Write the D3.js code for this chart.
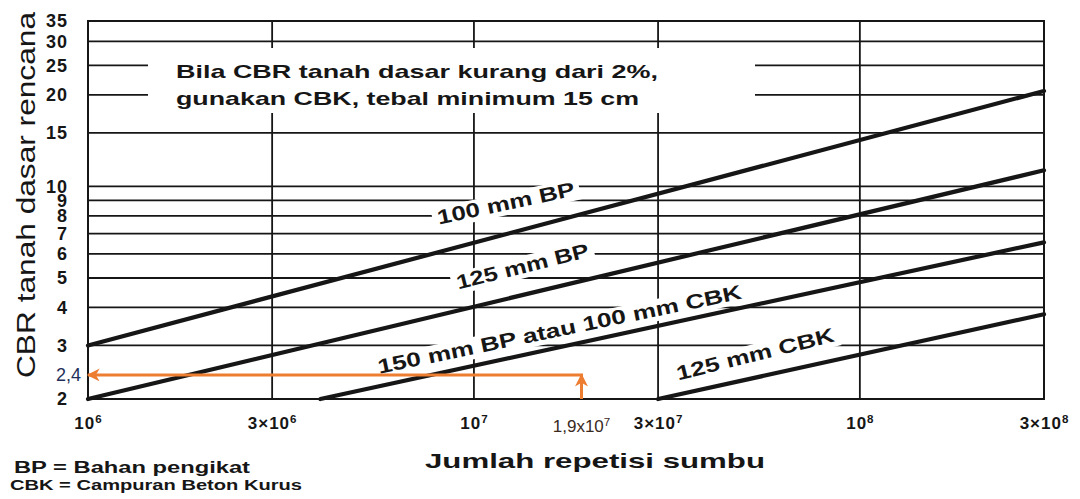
<!DOCTYPE html>
<html>
<head>
<meta charset="utf-8">
<script src="https://cdn.jsdelivr.net/npm/d3@7"></script>
<style>
  html, body { margin: 0; padding: 0; background: #fff; }
  svg { display: block; }
  text { font-family: "Liberation Sans", Arial, Helvetica, sans-serif; }
</style>
</head>
<body>
<svg id="chart" width="1080" height="499"></svg>
<script>
// ---- Axis extents and ticks ----
const repetitionDomain = [1e6, 3e8];
const cbrDomain = [2, 35];
const repetitionTicks = [1e6, 3e6, 1e7, 3e7, 1e8, 3e8];
const repetitionTickLabels = ["10^6", "3×10^6", "10^7", "3×10^7", "10^8", "3×10^8"];
const cbrTicks = [2, 3, 4, 5, 6, 7, 8, 9, 10, 15, 20, 25, 30, 35];
const cbrTickLabels = ["2", "3", "4", "5", "6", "7", "8", "9", "10", "15", "20", "25", "30", "35"];

// ---- Design lines (sub-base thickness), end points as [repetitions, CBR] ----
const lineNames = ["100 mm BP", "125 mm BP", "150 mm BP atau 100 mm CBK", "125 mm CBK"];
const lineStart = [[1e6, 3], [1e6, 2], [4e6, 2], [3e7, 2]];
const lineEnd = [[3e8, 20.6], [3e8, 11.3], [3e8, 6.55], [3e8, 3.8]];

// ---- Worked example ----
const exampleRepetitions = 1.9e7;
const exampleCbr = 2.4;
const exampleRepetitionLabel = "1,9x10^7";
const exampleCbrLabel = "2,4";

// ---- Texts ----
const noteLines = ["Bila CBR tanah dasar kurang dari 2%,", "gunakan CBK, tebal minimum 15 cm"];
const xTitle = "Jumlah repetisi sumbu";
const yTitle = "CBR tanah dasar rencana";
const legendLines = ["BP = Bahan pengikat", "CBK = Campuran Beton Kurus"];

// ---- Scales ----
const svg = d3.select("#chart");
const x = d3.scaleLog().domain(repetitionDomain).range([88, 1044]);
const y = d3.scaleLog().domain(cbrDomain).range([399, 21]);
const [x0, x1] = x.range();
const [y0, y1] = y.range();

const ink = "#161616";
const orange = "#ED7D31";

// ---- Grid ----
const grid = svg.append("g").attr("class", "grid");
grid.selectAll("line.h")
  .data(cbrTicks.filter(v => v > cbrDomain[0] && v < cbrDomain[1]))
  .join("line")
  .attr("class", "h")
  .attr("x1", x0).attr("x2", x1)
  .attr("y1", d => y(d)).attr("y2", d => y(d))
  .attr("stroke", ink).attr("stroke-width", 1.8);
grid.selectAll("line.v")
  .data(repetitionTicks.filter(v => v > repetitionDomain[0] && v < repetitionDomain[1]))
  .join("line")
  .attr("class", "v")
  .attr("y1", y0).attr("y2", y1)
  .attr("x1", d => x(d)).attr("x2", d => x(d))
  .attr("stroke", ink).attr("stroke-width", 1.8);

// White panel behind the note text
svg.append("rect")
  .attr("x", 148).attr("y", 48).attr("width", 607).attr("height", 65)
  .attr("fill", "#fff");

// ---- Line labels (placement along each line) ----
const labelPlacement = [
  { at: [1.22e7, 8.37], angle: -12, len: 140 },
  { at: [1.35e7, 5.19], angle: -14, len: 136 },
  { at: [1.68e7, 3.22], angle: -11.7, len: 371 },
  { at: [5.41e7, 2.67], angle: -14, len: 162 }
];
const labelSize = 20;
const labels = svg.append("g").attr("class", "line-labels");
const labelGroups = labels.selectAll("g")
  .data(lineNames)
  .join("g")
  .attr("transform", (d, i) => {
    const p = labelPlacement[i];
    return `translate(${x(p.at[0])},${y(p.at[1])}) rotate(${p.angle})`;
  });
labelGroups.append("rect")
  .attr("x", (d, i) => -labelPlacement[i].len / 2 - 5)
  .attr("y", -labelSize * 0.85)
  .attr("width", (d, i) => labelPlacement[i].len + 10)
  .attr("height", labelSize + 2)
  .attr("fill", "#fff");

// ---- Design lines ----
const lineGen = d3.line().x(d => x(d[0])).y(d => y(d[1]));
svg.append("g").attr("class", "design-lines")
  .selectAll("path")
  .data(lineNames.map((n, i) => [lineStart[i], lineEnd[i]]))
  .join("path")
  .attr("d", lineGen)
  .attr("fill", "none")
  .attr("stroke", ink)
  .attr("stroke-width", 4.2)
  .attr("stroke-linecap", "round");

labelGroups.append("text")
  .attr("text-anchor", "middle")
  .attr("font-size", labelSize)
  .attr("font-weight", "bold")
  .attr("fill", ink)
  .attr("textLength", (d, i) => labelPlacement[i].len)
  .attr("lengthAdjust", "spacingAndGlyphs")
  .text(d => d);

// ---- Frame ----
svg.append("rect")
  .attr("x", x0).attr("y", y1)
  .attr("width", x1 - x0).attr("height", y0 - y1)
  .attr("fill", "none").attr("stroke", ink).attr("stroke-width", 2);

// ---- Axes ----
function writePower(sel, label) {
  const parts = label.split("^");
  sel.text(null);
  sel.append("tspan").text(parts[0]);
  if (parts.length > 1) {
    sel.append("tspan").attr("dy", "-0.5em").attr("font-size", "0.68em").text(parts[1]);
  }
}

const xAxis = d3.axisBottom(x)
  .tickValues(repetitionTicks)
  .tickSize(0)
  .tickPadding(18)
  .tickFormat((d, i) => repetitionTickLabels[i]);
const gx = svg.append("g")
  .attr("transform", `translate(0,${y0})`)
  .call(xAxis);
gx.select(".domain").remove();
gx.selectAll("text")
  .attr("font-family", "Liberation Sans, Arial, sans-serif")
  .attr("font-size", 17)
  .attr("font-weight", "bold")
  .attr("letter-spacing", 1)
  .attr("fill", ink)
  .each(function(d, i) { writePower(d3.select(this), repetitionTickLabels[i]); });

const yAxis = d3.axisLeft(y)
  .tickValues(cbrTicks)
  .tickSize(0)
  .tickPadding(20)
  .tickFormat((d, i) => cbrTickLabels[i]);
const gy = svg.append("g")
  .attr("transform", `translate(${x0},0)`)
  .call(yAxis);
gy.select(".domain").remove();
gy.selectAll("text")
  .attr("font-family", "Liberation Sans, Arial, sans-serif")
  .attr("font-size", 18)
  .attr("font-weight", "bold")
  .attr("letter-spacing", 1)
  .attr("fill", ink);

// ---- Note text ----
svg.append("g").selectAll("text")
  .data(noteLines)
  .join("text")
  .attr("x", 176)
  .attr("y", (d, i) => 78 + i * 27)
  .attr("font-size", 19)
  .attr("font-weight", "bold")
  .attr("fill", ink)
  .attr("textLength", (d, i) => i === 0 ? 482 : 463)
  .attr("lengthAdjust", "spacingAndGlyphs")
  .text(d => d);

// ---- Axis titles ----
svg.append("text")
  .attr("x", 425).attr("y", 468)
  .attr("font-size", 21)
  .attr("font-weight", "bold")
  .attr("fill", ink)
  .attr("textLength", 340)
  .attr("lengthAdjust", "spacingAndGlyphs")
  .text(xTitle);

svg.append("text")
  .attr("transform", "translate(35,378) rotate(-90)")
  .attr("font-size", 26)
  .attr("fill", ink)
  .attr("textLength", 366)
  .attr("lengthAdjust", "spacingAndGlyphs")
  .text(yTitle);

// ---- Abbreviations ----
svg.append("text")
  .attr("x", 14).attr("y", 473)
  .attr("font-size", 16).attr("font-weight", "bold").attr("fill", ink)
  .attr("textLength", 236).attr("lengthAdjust", "spacingAndGlyphs")
  .text(legendLines[0]);
svg.append("text")
  .attr("x", 10).attr("y", 490)
  .attr("font-size", 14).attr("font-weight", "bold").attr("fill", ink)
  .attr("textLength", 292).attr("lengthAdjust", "spacingAndGlyphs")
  .text(legendLines[1]);

// ---- Worked example arrows ----
const defs = svg.append("defs");
defs.append("marker")
  .attr("id", "arrow")
  .attr("viewBox", "0 0 10 10")
  .attr("refX", 9).attr("refY", 5)
  .attr("markerUnits", "userSpaceOnUse")
  .attr("markerWidth", 15).attr("markerHeight", 13)
  .attr("orient", "auto")
  .append("path")
  .attr("d", "M0,0 L10,5 L0,10 L3,5 Z")
  .attr("fill", orange);

const ex = x(exampleRepetitions), ey = y(exampleCbr);
svg.append("line")
  .attr("x1", ex).attr("y1", y0)
  .attr("x2", ex).attr("y2", ey)
  .attr("stroke", orange).attr("stroke-width", 3)
  .attr("marker-end", "url(#arrow)");
svg.append("line")
  .attr("x1", ex + 1.5).attr("y1", ey)
  .attr("x2", x0).attr("y2", ey)
  .attr("stroke", orange).attr("stroke-width", 3)
  .attr("marker-end", "url(#arrow)");

svg.append("text")
  .attr("x", x0 - 7).attr("y", ey + 6)
  .attr("text-anchor", "end")
  .attr("font-family", "Open Sans, sans-serif")
  .attr("font-size", 18)
  .attr("fill", "#1F2F5A")
  .text(exampleCbrLabel);

const exLabel = svg.append("text")
  .attr("x", ex).attr("y", y0 + 33)
  .attr("text-anchor", "middle")
  .attr("font-family", "Open Sans, sans-serif")
  .attr("font-size", 17)
  .attr("fill", "#3A2A1E");
writePower(exLabel, exampleRepetitionLabel);
</script>
</body>
</html>
